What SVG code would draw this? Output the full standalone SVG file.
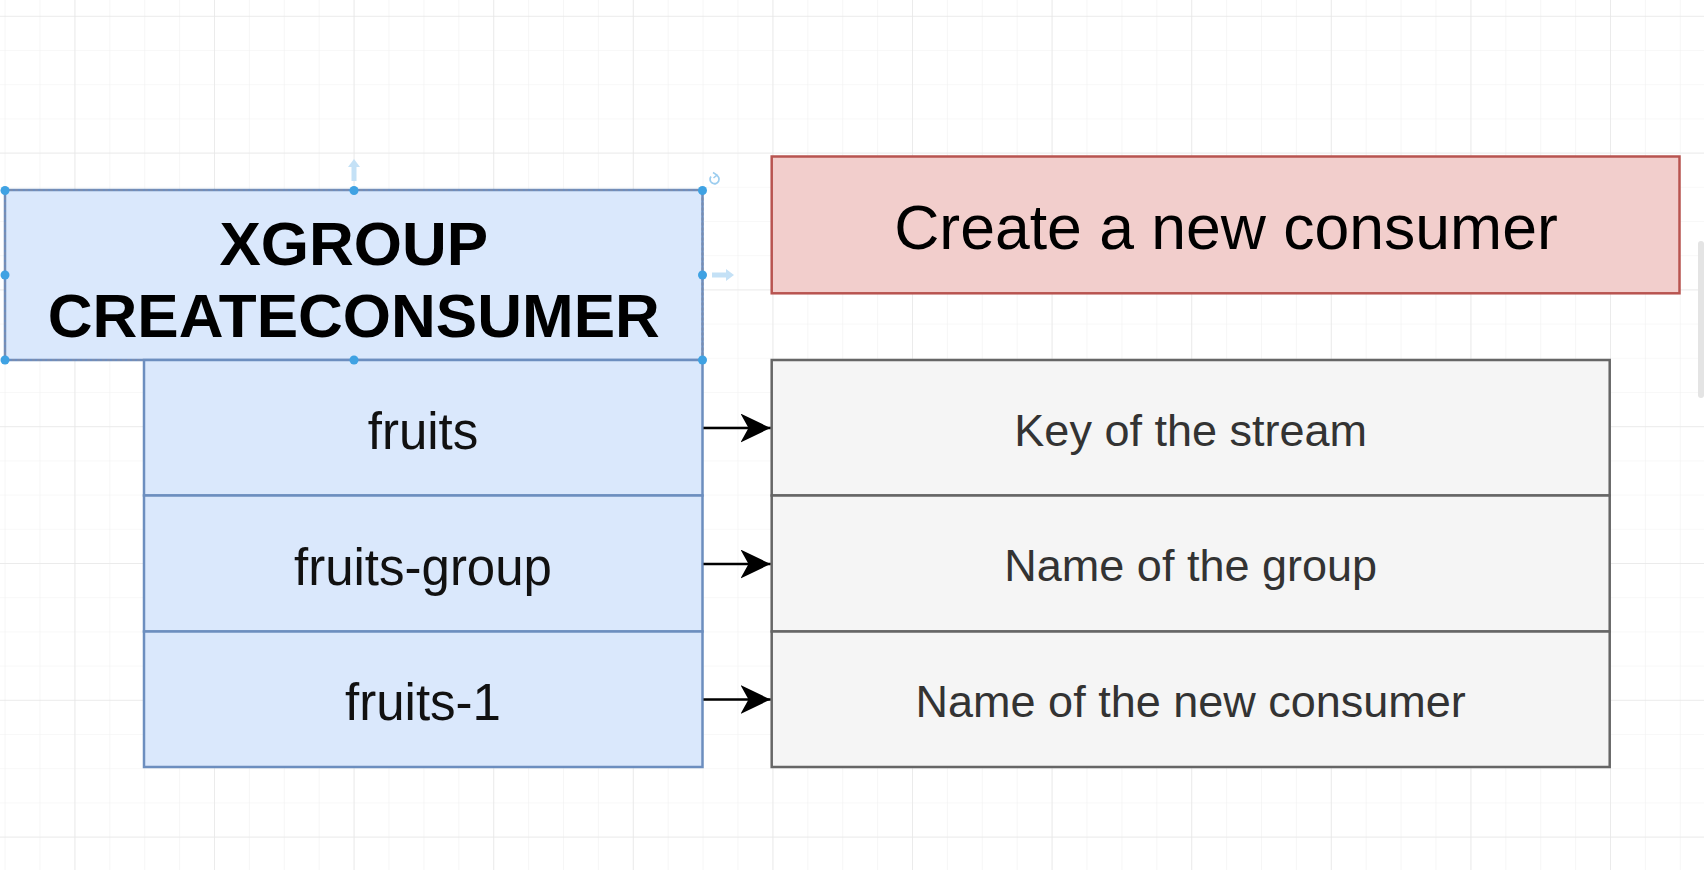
<svg xmlns="http://www.w3.org/2000/svg" width="1704" height="870" viewBox="0 0 1704 870">
<style>
.blue{fill:#dae8fc;stroke:#6c8ebf;stroke-width:2.5}
.red{fill:#f2cecc;stroke:#b85450;stroke-width:2.5}
.gray{fill:#f5f5f5;stroke:#666666;stroke-width:2.5}
.hd{font-family:"Liberation Sans",Arial,sans-serif;font-weight:bold;font-size:62px;fill:#000;text-anchor:middle}
.lbl{font-family:"Liberation Sans",Arial,sans-serif;font-size:51px;fill:#111;text-anchor:middle}
.desc{font-family:"Liberation Sans",Arial,sans-serif;font-size:45px;fill:#333;text-anchor:middle}
.title{font-family:"Liberation Sans",Arial,sans-serif;font-size:62.5px;fill:#000;text-anchor:middle}
.conn{stroke:#000;stroke-width:2.6;fill:none}
.handle{fill:#3fa2e3}
.hint{fill:#c4e1f6}
</style>
<defs>
<pattern id="minor" patternUnits="userSpaceOnUse" x="4.6" y="15.8" width="34.9" height="34.2">
<path d="M34.9 0H0V34.2" fill="none" stroke="#f1f1f1" stroke-width="1.2"/>
</pattern>
<pattern id="major" patternUnits="userSpaceOnUse" x="74.4" y="15.8" width="139.6" height="136.8">
<path d="M139.6 0H0V136.8" fill="none" stroke="#e7e7e7" stroke-width="1.4"/>
</pattern>
<marker id="arr" markerUnits="userSpaceOnUse" markerWidth="32" markerHeight="30" refX="30" refY="14.5" orient="auto">
<path d="M0 0L30 14.5L0 29L8 14.5Z" fill="#000"/>
</marker>
</defs>
<rect width="1704" height="870" fill="#ffffff"/>
<rect width="1704" height="870" fill="url(#minor)"/>
<rect width="1704" height="870" fill="url(#major)"/>
<rect x="1698" y="241" width="6" height="157" rx="3" fill="#e4e4e4"/>

<g id="header">
<rect class="blue" x="5" y="190" width="697.5" height="170"/>
<rect x="5" y="190" width="697.5" height="170" fill="none" stroke="#7b8db0" stroke-width="2" stroke-dasharray="3 2"/>
<text class="hd" x="353.8" y="265">XGROUP</text>
<text class="hd" x="353.8" y="337">CREATECONSUMER</text>
</g>

<g id="arg-fruits">
<rect class="blue" x="144" y="360" width="558.5" height="135.5"/>
<text class="lbl" x="423" y="448.5">fruits</text>
</g>
<g id="arg-fruits-group">
<rect class="blue" x="144" y="495.5" width="558.5" height="136"/>
<text class="lbl" x="423" y="584.5">fruits-group</text>
</g>
<g id="arg-fruits-1">
<rect class="blue" x="144" y="631.5" width="558.5" height="135.5"/>
<text class="lbl" x="423" y="720">fruits-1</text>
</g>

<g id="selection-handles">
<circle class="handle" cx="5" cy="190.5" r="4.5"/>
<circle class="handle" cx="354" cy="190.5" r="4.5"/>
<circle class="handle" cx="702.5" cy="190.5" r="4.5"/>
<circle class="handle" cx="5" cy="275" r="4.5"/>
<circle class="handle" cx="702.5" cy="275" r="4.5"/>
<circle class="handle" cx="5" cy="360" r="4.5"/>
<circle class="handle" cx="354" cy="360" r="4.5"/>
<circle class="handle" cx="702.5" cy="360" r="4.5"/>
<path class="hint" d="M354 159L360 167H356.5V181H351.5V167H348Z"/>
<path class="hint" d="M734 275L726 269V272.5H712V277.5H726V281Z"/>
<path d="M711 176.5A4.5 4.5 0 1 0 716 175" fill="none" stroke="#9ccdef" stroke-width="1.8"/>
<path d="M713 172.5L717 175L713.5 178" fill="none" stroke="#9ccdef" stroke-width="1.5"/>
</g>

<g id="title">
<rect class="red" x="771.7" y="156.5" width="907.8" height="136.8"/>
<text class="title" x="1226" y="248.5">Create a new consumer</text>
</g>

<g id="desc-key">
<rect class="gray" x="771.7" y="360" width="838" height="135.5"/>
<text class="desc" x="1190.7" y="446">Key of the stream</text>
</g>
<g id="desc-group">
<rect class="gray" x="771.7" y="495.5" width="838" height="136"/>
<text class="desc" x="1190.7" y="581">Name of the group</text>
</g>
<g id="desc-consumer">
<rect class="gray" x="771.7" y="631.5" width="838" height="135.5"/>
<text class="desc" x="1190.7" y="716.5">Name of the new consumer</text>
</g>

<g id="connectors">
<line class="conn" x1="703.5" y1="428" x2="770.5" y2="428" marker-end="url(#arr)"/>
<line class="conn" x1="703.5" y1="564" x2="770.5" y2="564" marker-end="url(#arr)"/>
<line class="conn" x1="703.5" y1="699.5" x2="770.5" y2="699.5" marker-end="url(#arr)"/>
</g>
</svg>
